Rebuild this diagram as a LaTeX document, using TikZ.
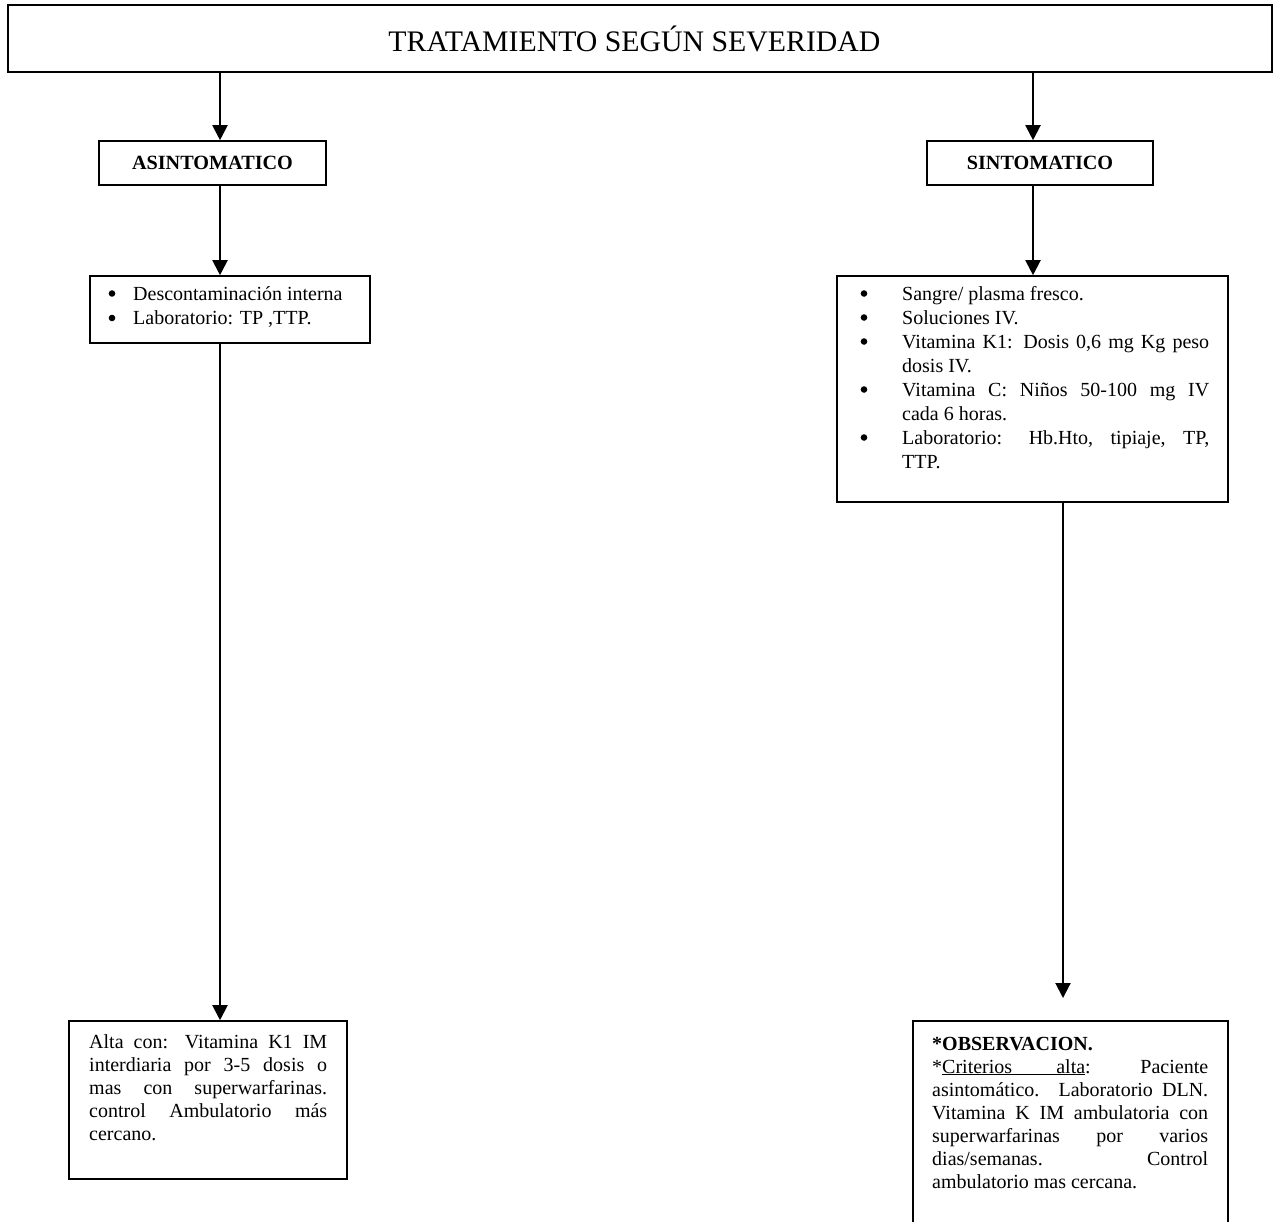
\documentclass[tikz,border=0pt]{standalone}
\usepackage{fontspec}
\setmainfont{Liberation Serif}
\usetikzlibrary{arrows.meta}

% indent left free for a list bullet (the dots are drawn by the picture)
\newcommand\bul[1]{\hspace*{#1}}
% a line whose inter-word spaces are stretched to the given width
\newcommand\jline[2]{\makebox[#1][s]{#2}}

\begin{document}
\begin{tikzpicture}[x=1pt,y=-1pt,
  frame/.style={draw, rectangle, line width=1.6pt, inner sep=0pt},
  link/.style={line width=2pt, -{Triangle[length=15pt,width=15pt]}},
  head/.style={font=\fontsize{20.2}{23}\selectfont\bfseries},
  body/.style={inner sep=0pt, anchor=base west},
  dot/.style={fill=black, circle, inner sep=0pt, minimum size=6.6pt},
]
\useasboundingbox (0,0) rectangle (1273,1221);
\clip (0,0) rectangle (1273,1221);

% title bar (text sits a little left of the bar's centre)
\node[frame, line width=2.6pt, minimum width=1264pt, minimum height=67pt,
      inner xsep=0pt,
      font=\fontsize{29.8}{34}\selectfont] (title) at (640,38.5)
      {TRATAMIENTO SEGÚN SEVERIDAD\hspace*{11pt}};

% severity headings
\node[frame, head, minimum width=227pt, minimum height=44pt] (asym) at (212.5,163) {ASINTOMATICO};
\node[frame, head, minimum width=226pt, minimum height=44pt] (sym) at (1040,163) {SINTOMATICO};

% content boxes
\node[frame, minimum width=280pt, minimum height=67pt] (asymbox) at (230,309.5) {};
\node[frame, minimum width=391pt, minimum height=226pt] (symbox) at (1032.5,389) {};
\node[frame, minimum width=278pt, minimum height=158pt] (altabox) at (208,1100) {};
\node[frame, minimum width=315pt, minimum height=240pt] (obsbox) at (1070.5,1141) {};

% texts of the content boxes
\node[body] (asymtext) at (108,300) {\parbox[t]{260pt}{\fontsize{20}{24.5}\selectfont
  \bul{25pt}Descontaminación interna\\
  \bul{25pt}Laboratorio: TP ,TTP.}};

\node[body] (symtext) at (860,300) {\parbox[t]{350pt}{\fontsize{20}{24}\selectfont
  \bul{42pt}Sangre/ plasma fresco.\\
  \bul{42pt}Soluciones IV.\\
  \bul{42pt}\jline{307pt}{Vitamina K1: Dosis 0,6 mg Kg peso}\\
  \hspace*{42pt}dosis IV.\\
  \bul{42pt}\jline{307pt}{Vitamina C: Niños 50-100 mg IV}\\
  \hspace*{42pt}cada 6 horas.\\
  \bul{42pt}\jline{307pt}{Laboratorio: Hb.Hto, tipiaje, TP,}\\
  \hspace*{42pt}TTP.}};

\node[body] (altatext) at (89,1048) {\parbox[t]{240pt}{\fontsize{20}{23}\selectfont
  \jline{238pt}{Alta con: Vitamina K1 IM}\\
  \jline{238pt}{interdiaria por 3-5 dosis o}\\
  \jline{238pt}{mas con superwarfarinas.}\\
  \jline{238pt}{control Ambulatorio más}\\
  cercano.}};

\node[body] (obstext) at (932,1050) {\parbox[t]{278pt}{\fontsize{20}{23}\selectfont
  \textbf{*OBSERVACION.}\\
  \makebox[276pt][l]{*\underline{\jline{143pt}{Criterios alta}}:\hfill Paciente}\\
  \jline{276pt}{asintomático. Laboratorio DLN.}\\
  \jline{276pt}{Vitamina K IM ambulatoria con}\\
  \jline{276pt}{superwarfarinas por varios}\\
  \jline{276pt}{dias/semanas. Control}\\
  ambulatorio mas cercana.}};

% list bullets
\foreach \y [count=\i] in {293.5,318} \node[dot] (ab\i) at (112,\y) {};
\foreach \y [count=\i] in {293.5,317.5,341.5,389.5,437.5} \node[dot] (sb\i) at (864,\y) {};

% connector columns
\coordinate (lx) at (220,0);
\coordinate (rx) at (1033,0);
\coordinate (obsin) at (1063,998);

\draw[link] (title.south -| lx) -- (asym.north -| lx);
\draw[link] (asym.south -| lx) -- (asymbox.north -| lx);
\draw[link] (asymbox.south -| lx) -- (altabox.north -| lx);
\draw[link] (title.south -| rx) -- (sym.north -| rx);
\draw[link] (sym.south -| rx) -- (symbox.north -| rx);
\draw[link] (symbox.south -| obsin) -- (obsin);
\end{tikzpicture}
\end{document}
